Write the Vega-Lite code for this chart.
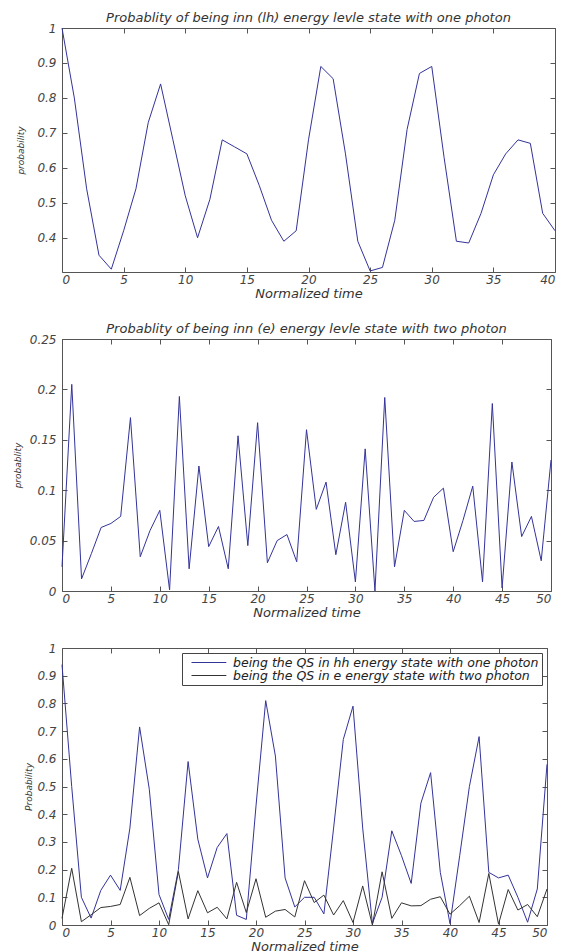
{
  "$schema": "https://vega.github.io/schema/vega-lite/v6.json",
  "padding": {"left": 12, "top": 11, "right": 0, "bottom": 0},
  "spacing": 21,
  "resolve": {"legend": {"color": "independent"}, "scale": {"color": "independent"}},
  "datasets": {
    "p1": [
      {"t": 0, "p": 1.0}, {"t": 1, "p": 0.80}, {"t": 2, "p": 0.54}, {"t": 3, "p": 0.35},
      {"t": 4, "p": 0.31}, {"t": 5, "p": 0.42}, {"t": 6, "p": 0.54}, {"t": 7, "p": 0.73},
      {"t": 8, "p": 0.84}, {"t": 9, "p": 0.68}, {"t": 10, "p": 0.52}, {"t": 11, "p": 0.40},
      {"t": 12, "p": 0.51}, {"t": 13, "p": 0.68}, {"t": 14, "p": 0.66}, {"t": 15, "p": 0.64},
      {"t": 16, "p": 0.55}, {"t": 17, "p": 0.45}, {"t": 18, "p": 0.39}, {"t": 19, "p": 0.42},
      {"t": 20, "p": 0.68}, {"t": 21, "p": 0.89}, {"t": 22, "p": 0.855}, {"t": 23, "p": 0.64},
      {"t": 24, "p": 0.39}, {"t": 25, "p": 0.305}, {"t": 26, "p": 0.315}, {"t": 27, "p": 0.45},
      {"t": 28, "p": 0.71}, {"t": 29, "p": 0.87}, {"t": 30, "p": 0.89}, {"t": 31, "p": 0.63},
      {"t": 32, "p": 0.39}, {"t": 33, "p": 0.385}, {"t": 34, "p": 0.47}, {"t": 35, "p": 0.58},
      {"t": 36, "p": 0.64}, {"t": 37, "p": 0.68}, {"t": 38, "p": 0.67}, {"t": 39, "p": 0.47},
      {"t": 40, "p": 0.42}
    ],
    "p2": [
      {"t": 0, "p": 0.024}, {"t": 1, "p": 0.205}, {"t": 2, "p": 0.012}, {"t": 3, "p": 0.037},
      {"t": 4, "p": 0.063}, {"t": 5, "p": 0.067}, {"t": 6, "p": 0.074}, {"t": 7, "p": 0.172},
      {"t": 8, "p": 0.034}, {"t": 9, "p": 0.06}, {"t": 10, "p": 0.08}, {"t": 11, "p": 0.001},
      {"t": 12, "p": 0.193}, {"t": 13, "p": 0.022}, {"t": 14, "p": 0.124}, {"t": 15, "p": 0.044},
      {"t": 16, "p": 0.064}, {"t": 17, "p": 0.022}, {"t": 18, "p": 0.154}, {"t": 19, "p": 0.045},
      {"t": 20, "p": 0.167}, {"t": 21, "p": 0.028}, {"t": 22, "p": 0.05}, {"t": 23, "p": 0.056},
      {"t": 24, "p": 0.029}, {"t": 25, "p": 0.16}, {"t": 26, "p": 0.081}, {"t": 27, "p": 0.108},
      {"t": 28, "p": 0.036}, {"t": 29, "p": 0.088}, {"t": 30, "p": 0.009}, {"t": 31, "p": 0.141},
      {"t": 32, "p": 0.0}, {"t": 33, "p": 0.192}, {"t": 34, "p": 0.024}, {"t": 35, "p": 0.08},
      {"t": 36, "p": 0.069}, {"t": 37, "p": 0.07}, {"t": 38, "p": 0.093}, {"t": 39, "p": 0.102},
      {"t": 40, "p": 0.039}, {"t": 41, "p": 0.07}, {"t": 42, "p": 0.104}, {"t": 43, "p": 0.009},
      {"t": 44, "p": 0.186}, {"t": 45, "p": 0.003}, {"t": 46, "p": 0.128}, {"t": 47, "p": 0.054},
      {"t": 48, "p": 0.074}, {"t": 49, "p": 0.03}, {"t": 50, "p": 0.13}
    ],
    "p3": [
      {"t": 0, "p": 0.94, "s": "hh"}, {"t": 1, "p": 0.5, "s": "hh"}, {"t": 2, "p": 0.10, "s": "hh"},
      {"t": 3, "p": 0.025, "s": "hh"}, {"t": 4, "p": 0.125, "s": "hh"}, {"t": 5, "p": 0.18, "s": "hh"},
      {"t": 6, "p": 0.125, "s": "hh"}, {"t": 7, "p": 0.35, "s": "hh"}, {"t": 8, "p": 0.715, "s": "hh"},
      {"t": 9, "p": 0.49, "s": "hh"}, {"t": 10, "p": 0.11, "s": "hh"}, {"t": 11, "p": 0.02, "s": "hh"},
      {"t": 12, "p": 0.2, "s": "hh"}, {"t": 13, "p": 0.59, "s": "hh"}, {"t": 14, "p": 0.31, "s": "hh"},
      {"t": 15, "p": 0.17, "s": "hh"}, {"t": 16, "p": 0.28, "s": "hh"}, {"t": 17, "p": 0.33, "s": "hh"},
      {"t": 18, "p": 0.035, "s": "hh"}, {"t": 19, "p": 0.02, "s": "hh"}, {"t": 20, "p": 0.43, "s": "hh"},
      {"t": 21, "p": 0.81, "s": "hh"}, {"t": 22, "p": 0.61, "s": "hh"}, {"t": 23, "p": 0.17, "s": "hh"},
      {"t": 24, "p": 0.065, "s": "hh"}, {"t": 25, "p": 0.1, "s": "hh"}, {"t": 26, "p": 0.1, "s": "hh"},
      {"t": 27, "p": 0.04, "s": "hh"}, {"t": 28, "p": 0.35, "s": "hh"}, {"t": 29, "p": 0.67, "s": "hh"},
      {"t": 30, "p": 0.79, "s": "hh"}, {"t": 31, "p": 0.35, "s": "hh"}, {"t": 32, "p": 0.005, "s": "hh"},
      {"t": 33, "p": 0.1, "s": "hh"}, {"t": 34, "p": 0.34, "s": "hh"}, {"t": 35, "p": 0.25, "s": "hh"},
      {"t": 36, "p": 0.15, "s": "hh"}, {"t": 37, "p": 0.44, "s": "hh"}, {"t": 38, "p": 0.55, "s": "hh"},
      {"t": 39, "p": 0.19, "s": "hh"}, {"t": 40, "p": 0.005, "s": "hh"}, {"t": 41, "p": 0.25, "s": "hh"},
      {"t": 42, "p": 0.5, "s": "hh"}, {"t": 43, "p": 0.68, "s": "hh"}, {"t": 44, "p": 0.19, "s": "hh"},
      {"t": 45, "p": 0.17, "s": "hh"}, {"t": 46, "p": 0.18, "s": "hh"}, {"t": 47, "p": 0.1, "s": "hh"},
      {"t": 48, "p": 0.01, "s": "hh"}, {"t": 49, "p": 0.13, "s": "hh"}, {"t": 50, "p": 0.58, "s": "hh"},
      {"t": 0, "p": 0.024, "s": "e"}, {"t": 1, "p": 0.205, "s": "e"}, {"t": 2, "p": 0.012, "s": "e"},
      {"t": 3, "p": 0.037, "s": "e"}, {"t": 4, "p": 0.063, "s": "e"}, {"t": 5, "p": 0.067, "s": "e"},
      {"t": 6, "p": 0.074, "s": "e"}, {"t": 7, "p": 0.172, "s": "e"}, {"t": 8, "p": 0.034, "s": "e"},
      {"t": 9, "p": 0.06, "s": "e"}, {"t": 10, "p": 0.08, "s": "e"}, {"t": 11, "p": 0.001, "s": "e"},
      {"t": 12, "p": 0.193, "s": "e"}, {"t": 13, "p": 0.022, "s": "e"}, {"t": 14, "p": 0.124, "s": "e"},
      {"t": 15, "p": 0.044, "s": "e"}, {"t": 16, "p": 0.064, "s": "e"}, {"t": 17, "p": 0.022, "s": "e"},
      {"t": 18, "p": 0.154, "s": "e"}, {"t": 19, "p": 0.045, "s": "e"}, {"t": 20, "p": 0.167, "s": "e"},
      {"t": 21, "p": 0.028, "s": "e"}, {"t": 22, "p": 0.05, "s": "e"}, {"t": 23, "p": 0.056, "s": "e"},
      {"t": 24, "p": 0.029, "s": "e"}, {"t": 25, "p": 0.16, "s": "e"}, {"t": 26, "p": 0.081, "s": "e"},
      {"t": 27, "p": 0.108, "s": "e"}, {"t": 28, "p": 0.036, "s": "e"}, {"t": 29, "p": 0.088, "s": "e"},
      {"t": 30, "p": 0.009, "s": "e"}, {"t": 31, "p": 0.141, "s": "e"}, {"t": 32, "p": 0.0, "s": "e"},
      {"t": 33, "p": 0.192, "s": "e"}, {"t": 34, "p": 0.024, "s": "e"}, {"t": 35, "p": 0.08, "s": "e"},
      {"t": 36, "p": 0.069, "s": "e"}, {"t": 37, "p": 0.07, "s": "e"}, {"t": 38, "p": 0.093, "s": "e"},
      {"t": 39, "p": 0.102, "s": "e"}, {"t": 40, "p": 0.039, "s": "e"}, {"t": 41, "p": 0.07, "s": "e"},
      {"t": 42, "p": 0.104, "s": "e"}, {"t": 43, "p": 0.009, "s": "e"}, {"t": 44, "p": 0.186, "s": "e"},
      {"t": 45, "p": 0.003, "s": "e"}, {"t": 46, "p": 0.128, "s": "e"}, {"t": 47, "p": 0.054, "s": "e"},
      {"t": 48, "p": 0.074, "s": "e"}, {"t": 49, "p": 0.03, "s": "e"}, {"t": 50, "p": 0.13, "s": "e"}
    ]
  },
  "vconcat": [
    {
      "width": 493,
      "height": 244,
      "title": {"text": "Probablity of being inn (lh) energy levle state with one photon"},
      "data": {"name": "p1"},
      "layer": [
        {
          "mark": {"type": "line", "color": "#33339a", "strokeWidth": 1},
          "encoding": {
            "x": {"field": "t", "type": "quantitative", "scale": {"domain": [0, 40], "nice": false},
              "axis": {"values": [0, 5, 10, 15, 20, 25, 30, 35, 40], "title": "Normalized time"}},
            "y": {"field": "p", "type": "quantitative", "scale": {"domain": [0.302, 1], "nice": false, "zero": false},
              "axis": {"values": [0.4, 0.5, 0.6, 0.7, 0.8, 0.9, 1], "format": "~g", "title": "probability", "titleX": -42}}
          }
        },
        {
          "mark": {"type": "line", "strokeOpacity": 0},
          "encoding": {
            "x": {"field": "t", "type": "quantitative", "axis": {"orient": "top", "values": [0, 5, 10, 15, 20, 25, 30, 35, 40], "labels": false, "title": null}},
            "y": {"field": "p", "type": "quantitative", "axis": {"orient": "right", "values": [0.4, 0.5, 0.6, 0.7, 0.8, 0.9, 1], "labels": false, "title": null}}
          }
        }
      ],
      "resolve": {"axis": {"x": "independent", "y": "independent"}}
    },
    {
      "width": 489,
      "height": 252,
      "title": {"text": "Probablity of being inn (e) energy levle state with two photon"},
      "data": {"name": "p2"},
      "layer": [
        {
          "mark": {"type": "line", "color": "#33339a", "strokeWidth": 1},
          "encoding": {
            "x": {"field": "t", "type": "quantitative", "scale": {"domain": [0, 50], "nice": false},
              "axis": {"values": [0, 5, 10, 15, 20, 25, 30, 35, 40, 45, 50], "title": "Normalized time"}},
            "y": {"field": "p", "type": "quantitative", "scale": {"domain": [0, 0.25], "nice": false},
              "axis": {"values": [0, 0.05, 0.1, 0.15, 0.2, 0.25], "format": "~g", "title": "probablity", "titleX": -45}}
          }
        },
        {
          "mark": {"type": "line", "strokeOpacity": 0},
          "encoding": {
            "x": {"field": "t", "type": "quantitative", "axis": {"orient": "top", "values": [0, 5, 10, 15, 20, 25, 30, 35, 40, 45, 50], "labels": false, "title": null}},
            "y": {"field": "p", "type": "quantitative", "axis": {"orient": "right", "values": [0, 0.05, 0.1, 0.15, 0.2, 0.25], "labels": false, "title": null}}
          }
        }
      ],
      "resolve": {"axis": {"x": "independent", "y": "independent"}}
    },
    {
      "width": 485,
      "height": 277,
      "data": {"name": "p3"},
      "layer": [
        {
          "mark": {"type": "line", "strokeWidth": 1},
          "encoding": {
            "x": {"field": "t", "type": "quantitative", "scale": {"domain": [0, 50], "nice": false},
              "axis": {"values": [0, 5, 10, 15, 20, 25, 30, 35, 40, 45, 50], "title": "Normalized time"}},
            "y": {"field": "p", "type": "quantitative", "scale": {"domain": [0, 1], "nice": false},
              "axis": {"values": [0, 0.1, 0.2, 0.3, 0.4, 0.5, 0.6, 0.7, 0.8, 0.9, 1], "format": "~g", "title": "Probability", "titleX": -34}},
            "color": {
              "field": "s",
              "type": "nominal",
              "scale": {"domain": ["hh", "e"], "range": ["#33339a", "#333333"]},
              "legend": {
                "title": null,
                "orient": "top-right",
                "offset": 5,
                "labelExpr": "datum.value == 'hh' ? 'being the QS in hh energy state with one photon' : 'being the QS in e energy state with two photon'"
              }
            }
          }
        },
        {
          "mark": {"type": "line", "strokeOpacity": 0},
          "encoding": {
            "x": {"field": "t", "type": "quantitative", "axis": {"orient": "top", "values": [0, 5, 10, 15, 20, 25, 30, 35, 40, 45, 50], "labels": false, "title": null}},
            "y": {"field": "p", "type": "quantitative", "axis": {"orient": "right", "values": [0, 0.1, 0.2, 0.3, 0.4, 0.5, 0.6, 0.7, 0.8, 0.9, 1], "labels": false, "title": null}}
          }
        }
      ],
      "resolve": {"axis": {"x": "independent", "y": "independent"}}
    }
  ],
  "config": {
    "font": "DejaVu Sans",
    "view": {"stroke": "#555555", "strokeWidth": 1},
    "axis": {
      "grid": false,
      "domain": false,
      "tickColor": "#555555",
      "tickSize": -5,
      "labelFont": "DejaVu Sans",
      "labelFontStyle": "italic",
      "labelFontSize": 12,
      "labelColor": "#444444",
      "titleFont": "DejaVu Sans",
      "titleFontStyle": "italic",
      "titleFontWeight": "normal",
      "titleColor": "#333333"
    },
    "axisX": {"labelPadding": 7, "titleFontSize": 13, "titleY": 15, "titleBaseline": "top"},
    "axisY": {"labelPadding": 11, "titleFontSize": 9, "titleBaseline": "middle"},
    "title": {
      "font": "DejaVu Sans",
      "fontStyle": "italic",
      "fontWeight": "normal",
      "fontSize": 13,
      "color": "#333333",
      "frame": "group",
      "offset": -3
    },
    "legend": {
      "strokeColor": "#444444",
      "fillColor": "#ffffff",
      "padding": 3,
      "symbolType": "M0,0H5.8",
      "symbolSize": 144,
      "symbolStrokeWidth": 1,
      "labelFont": "DejaVu Sans",
      "labelFontStyle": "italic",
      "labelFontSize": 12.5,
      "labelColor": "#222222",
      "labelLimit": 0,
      "labelOffset": 35,
      "rowPadding": 0
    }
  }
}
